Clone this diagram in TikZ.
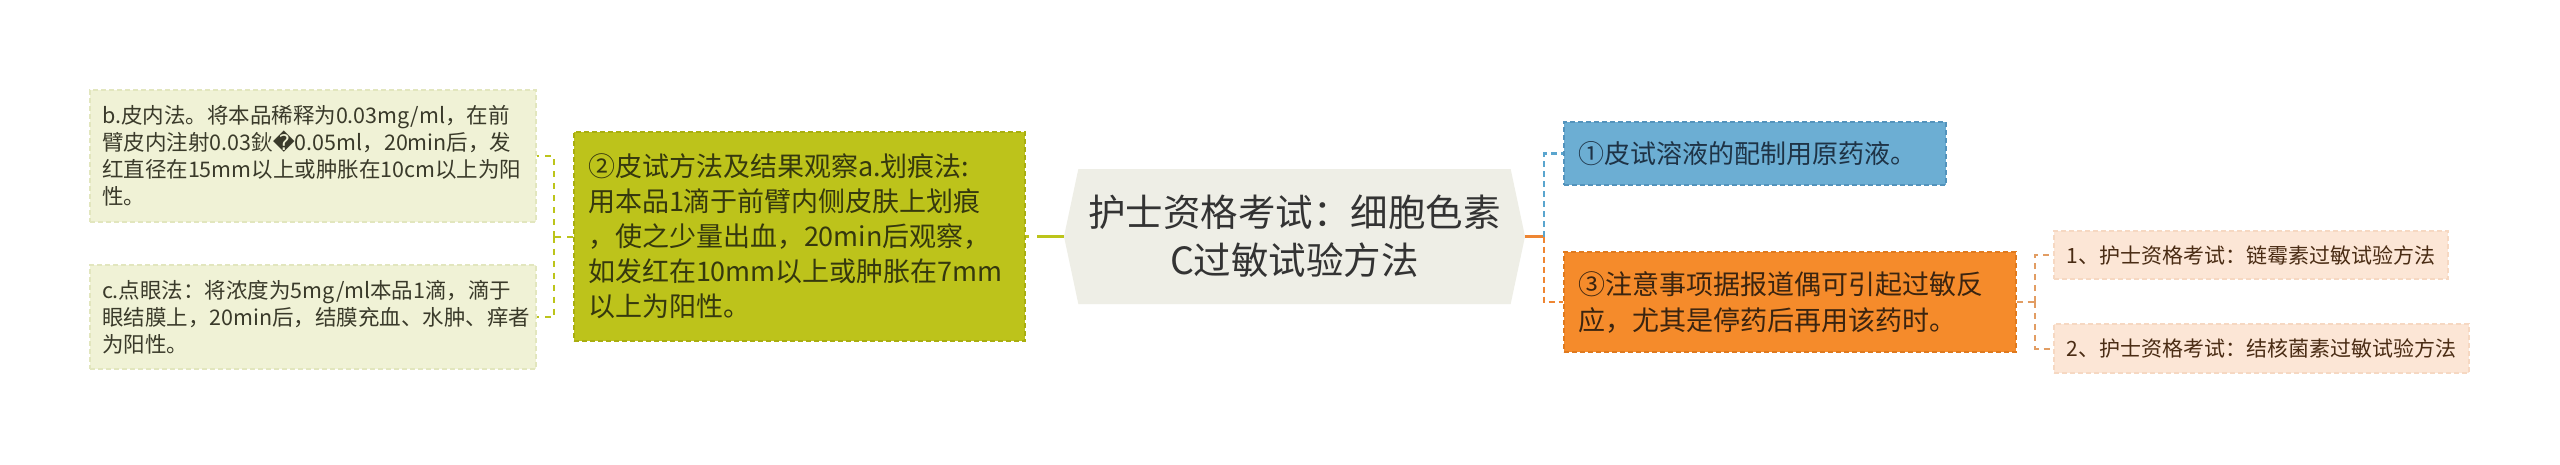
\documentclass[tikz,border=0pt]{standalone}
\usepackage{fontspec}
\setmainfont{Noto Sans CJK SC}
\newfontfamily\dejavu{DejaVu Sans}
\usetikzlibrary{shapes.symbols}
\definecolor{bcfill}{HTML}{F0F2D6}
\definecolor{bcdraw}{HTML}{E2E6BE}
\definecolor{bctext}{HTML}{3A3A2A}
\definecolor{gfill}{HTML}{BDC31B}
\definecolor{gdraw}{HTML}{A9AE10}
\definecolor{gtext}{HTML}{35380E}
\definecolor{hexfill}{HTML}{EEEEE6}
\definecolor{hextext}{HTML}{333333}
\definecolor{bfill}{HTML}{6CAED3}
\definecolor{bdraw}{HTML}{5393BC}
\definecolor{btext}{HTML}{1E3346}
\definecolor{ofill}{HTML}{F58B2B}
\definecolor{odraw}{HTML}{E07A1E}
\definecolor{otext}{HTML}{3A2410}
\definecolor{pfill}{HTML}{FCE6D6}
\definecolor{pdraw}{HTML}{F6D8C2}
\definecolor{ptext}{HTML}{4A2C14}
\definecolor{lgreen}{HTML}{BCC41A}
\definecolor{lblue}{HTML}{5AA5CE}
\definecolor{lorange}{HTML}{EE8633}
\definecolor{lpale}{HTML}{E29D63}
\tikzset{
  boxbase/.style={rectangle, align=left, anchor=center, inner ysep=0pt,
    dash pattern=on 5pt off 3pt, line width=1.2pt},
  leafbox/.style={boxbase, fill=bcfill, draw=bcdraw, text=bctext,
    font=\fontsize{21.5}{27}\selectfont, inner xsep=12pt, text width=422pt,
    minimum width=446pt},
  mainbox/.style={boxbase, fill=gfill, draw=gdraw, text=gtext,
    font=\fontsize{27}{35}\selectfont, inner xsep=14pt, text width=423pt,
    minimum width=451pt, minimum height=209pt},
  bluebox/.style={boxbase, fill=bfill, draw=bdraw, text=btext,
    font=\fontsize{26}{34}\selectfont, inner xsep=14pt, text width=354pt,
    minimum width=382pt, minimum height=63pt},
  orangebox/.style={boxbase, fill=ofill, draw=odraw, text=otext,
    font=\fontsize{27}{36}\selectfont, inner xsep=14pt, text width=424pt,
    minimum width=452pt, minimum height=100pt},
  palebox/.style={boxbase, fill=pfill, draw=pdraw, text=ptext,
    font=\fontsize{21}{27}\selectfont, inner xsep=12pt},
  hexnode/.style={signal, signal to=west and east, signal pointer angle=156,
    fill=hexfill, draw=none, text=hextext, align=center,
    font=\fontsize{37.5}{48}\selectfont, minimum width=461pt, minimum height=135pt,
    inner sep=0pt},
  greenlink/.style={draw=lgreen, line width=2pt, dash pattern=on 6pt off 6pt},
  greenthick/.style={draw=lgreen, line width=3.5pt, dash pattern=on 27pt off 8pt},
  orangesolid/.style={draw=lorange, line width=3pt},
  bluelink/.style={draw=lblue, line width=2.6pt, dash pattern=on 6pt off 4pt},
  orangelink/.style={draw=lorange, line width=2.6pt, dash pattern=on 6pt off 4pt},
  palelink/.style={draw=lpale, line width=2pt, dash pattern=on 6pt off 5pt},
}
\begin{document}
\begin{tikzpicture}[x=1pt,y=-1pt]
\useasboundingbox[fill=white] (0,0) rectangle (2560,464);

% center
\node[hexnode] (hex) at (1294.5,236.5) {护士资格考试：细胞色素\\C过敏试验方法};

% left side
\node[mainbox] (p2) at (799.5,236.5) {②皮试方法及结果观察a.划痕法:\\用本品1滴于前臂内侧皮肤上划痕\\，使之少量出血，20min后观察，\\如发红在10mm以上或肿胀在7mm\\以上为阳性。};
\node[leafbox, minimum height=132pt] (pb) at (313,156) {b.皮内法。将本品稀释为0.03mg/ml，在前\\臂皮内注射0.03鈥{\dejavu �}0.05ml，20min后，发\\红直径在15mm以上或肿胀在10cm以上为阳\\性。};
\node[leafbox, minimum height=104pt] (pc) at (313,317) {c.点眼法：将浓度为5mg/ml本品1滴，滴于\\眼结膜上，20min后，结膜充血、水肿、痒者\\为阳性。};

% right side
\node[bluebox] (p1) at (1755,153.5) {①皮试溶液的配制用原药液。};
\node[orangebox] (p3) at (1790,302) {③注意事项据报道偶可引起过敏反\\应，尤其是停药后再用该药时。};
\node[palebox, minimum width=394pt, minimum height=48pt] (r1) at (2251,255) {1、护士资格考试：链霉素过敏试验方法};
\node[palebox, minimum width=415pt, minimum height=49pt] (r2) at (2261.5,348.5) {2、护士资格考试：结核菌素过敏试验方法};

% junction coordinates
\coordinate (jl) at (554,236.5);
\coordinate (jr) at (1544,236.5);
\coordinate (jo) at (2035,302);

% connectors left
\draw[greenthick] (hex.west) -- (p2.east);
\draw[greenlink] (p2.west) -- (jl);
\draw[greenlink] (jl) |- (pb.east);
\draw[greenlink] (jl) |- (pc.east);

% connectors right
\draw[orangesolid] (hex.east) -- (jr);
\draw[bluelink] (jr) |- (p1.west);
\draw[orangelink] (jr) |- (p3.west);
\draw[palelink] (p3.east) -- (jo);
\draw[palelink] (jo) |- (r1.west);
\draw[palelink] (jo) |- (r2.west);
\end{tikzpicture}
\end{document}
